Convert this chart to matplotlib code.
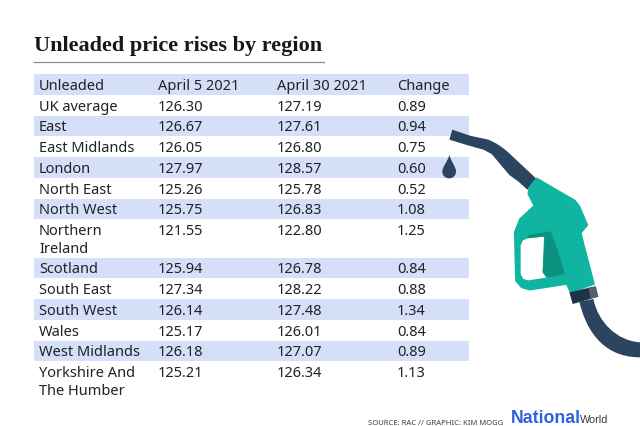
import matplotlib
matplotlib.use("Agg")
import matplotlib.pyplot as plt
from matplotlib.patches import Polygon, Rectangle, PathPatch
from matplotlib.path import Path

title = "Unleaded price rises by region"
headers = ["Unleaded", "April 5 2021", "April 30 2021", "Change"]
regions = ["UK average", "East", "East Midlands", "London", "North East", "North West",
           "Northern\nIreland", "Scotland", "South East", "South West", "Wales",
           "West Midlands", "Yorkshire And\nThe Humber"]
april5 = ["126.30", "126.67", "126.05", "127.97", "125.26", "125.75", "121.55",
          "125.94", "127.34", "126.14", "125.17", "126.18", "125.21"]
april30 = ["127.19", "127.61", "126.80", "128.57", "125.78", "126.83", "122.80",
           "126.78", "128.22", "127.48", "126.01", "127.07", "126.34"]
change = ["0.89", "0.94", "0.75", "0.60", "0.52", "1.08", "1.25",
          "0.84", "0.88", "1.34", "0.84", "0.89", "1.13"]

BAND = "#d6dff8"
INK = "#1f2328"
NAVY = "#2b4560"
TEAL = "#0fb5a0"
TEAL_D = "#0b917f"
COLS = [39, 158, 277, 397]
FS = 10.5
FONT = "Noto Sans"
TEXT_DY = 0.9

fig = plt.figure(figsize=(6.4, 4.27), dpi=100)
ax = fig.add_axes([0, 0, 1, 1])
ax.set_xlim(0, 640)
ax.set_ylim(427, 0)
ax.axis("off")

ax.text(34, 46, title, family="Liberation Serif", fontweight="bold", fontsize=16.0,
        color="#15181c", va="center", ha="left")
ax.plot([34, 324], [62.5, 62.5], color="#8d8d8d", lw=0.9)

row_h = 20.75
y = 75.0
ax.add_patch(Rectangle((34, y), 435, row_h, fc=BAND, ec="none"))
for cx, h in zip(COLS, headers):
    ax.text(cx, y + row_h / 2 + TEXT_DY, h, family=FONT, fontsize=FS, color=INK, va="center", ha="left")
y += row_h
for i, (r, a, b, c) in enumerate(zip(regions, april5, april30, change)):
    two = "\n" in r
    h = row_h * 1.85 if two else row_h
    if i % 2 == 1:
        ax.add_patch(Rectangle((34, y), 435, h, fc=BAND, ec="none"))
    first = y + row_h / 2 + TEXT_DY
    if two:
        l1, l2 = r.split("\n")
        ax.text(COLS[0], first, l1, family=FONT, fontsize=FS, color=INK, va="center")
        ax.text(COLS[0], first + 17.5, l2, family=FONT, fontsize=FS, color=INK, va="center")
    else:
        ax.text(COLS[0], first, r, family=FONT, fontsize=FS, color=INK, va="center")
    for cx, v in zip(COLS[1:], (a, b, c)):
        ax.text(cx, first, v, family=FONT, fontsize=FS, color=INK, va="center")
    y += h


def P(pts):
    return [(420 + px / 3, 110 + py / 3) for px, py in pts]


nozzle = Path(P([(97, 62), (150, 80), (205, 92), (240, 106), (270, 135), (350, 210), (322, 242),
                 (298, 220), (268, 198), (240, 165), (215, 135), (190, 122), (140, 108), (88, 92), (97, 62)]),
              [Path.MOVETO, Path.LINETO, Path.LINETO, Path.CURVE3, Path.CURVE3, Path.LINETO, Path.LINETO,
               Path.LINETO, Path.LINETO, Path.CURVE3, Path.CURVE3, Path.LINETO, Path.LINETO, Path.LINETO, Path.CLOSEPOLY])
ax.add_patch(PathPatch(nozzle, fc=NAVY, ec="none", zorder=3))
ax.add_patch(Polygon(P([(350, 208), (465, 275), (478, 292), (502, 348), (482, 372), (522, 525),
                        (452, 550), (440, 525), (330, 542), (305, 535), (288, 515), (284, 370),
                        (300, 330), (343, 290), (325, 255), (328, 235)]),
                     fc=TEAL, ec=TEAL, lw=1.2, joinstyle="round", zorder=4))
ax.add_patch(Polygon(P([(322, 388), (372, 383), (368, 490), (378, 506), (325, 514),
                        (310, 510), (302, 495), (302, 410), (308, 395)]),
                     fc="white", ec="none", zorder=5))
ax.add_patch(Polygon(P([(374, 383), (392, 367), (412, 420), (435, 495), (385, 505), (368, 490)]),
                     fc=TEAL_D, ec="none", zorder=6))
ax.add_patch(Polygon(P([(325, 378), (392, 367), (396, 380), (322, 388)]), fc=TEAL_D, ec="none", zorder=6))
ax.add_patch(Polygon(P([(448, 550), (525, 532), (535, 563), (458, 585)]), fc="#1e3349", ec="none", zorder=6))
ax.add_patch(Polygon(P([(505, 537), (528, 532), (535, 563), (512, 569)]), fc="#59606a", ec="none", zorder=7))
hose = Path(P([(478, 578), (495, 650), (540, 745), (660, 745), (660, 700), (590, 695), (535, 640), (520, 570), (478, 578)]),
            [Path.MOVETO, Path.CURVE4, Path.CURVE4, Path.CURVE4, Path.LINETO, Path.CURVE4, Path.CURVE4, Path.CURVE4, Path.CLOSEPOLY])
ax.add_patch(PathPatch(hose, fc=NAVY, ec="none", zorder=3))
drop = Path(P([(88, 138), (94, 160), (108, 172), (108, 188), (108, 200), (98, 208), (88, 208),
               (76, 208), (67, 200), (67, 188), (67, 172), (82, 160), (88, 138)]),
            [Path.MOVETO] + [Path.CURVE4] * 12)
ax.add_patch(PathPatch(drop, fc=NAVY, ec="none", zorder=3))

ax.text(503, 423.5, "SOURCE: RAC // GRAPHIC: KIM MOGG", family=FONT, fontsize=5.5, color="#3a3f45",
        va="center", ha="right")
ax.text(511, 418.5, "National", family="Liberation Sans", fontweight="bold", fontsize=12.8,
        color="#2f62d9", va="center", ha="left")
ax.text(580, 420, "World", family="Liberation Sans", fontsize=7.8, color="#333a42",
        va="center", ha="left")

fig.savefig("out.png", dpi=100)
